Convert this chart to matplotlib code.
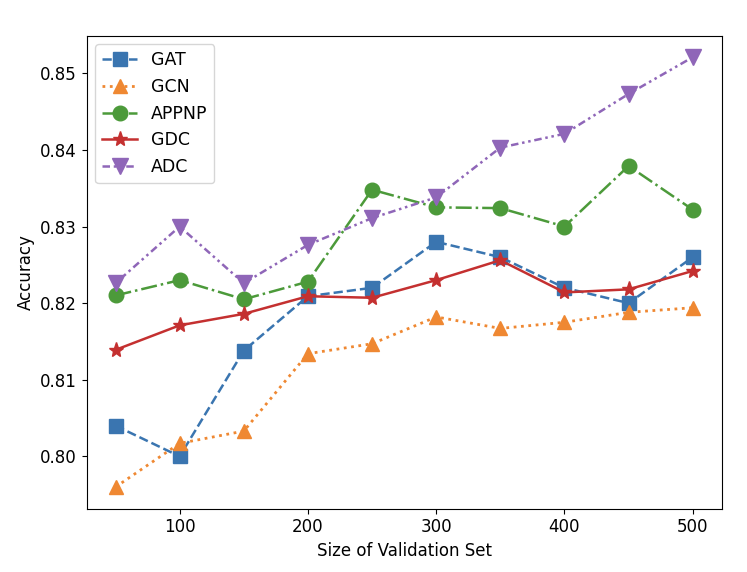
import matplotlib
matplotlib.use("Agg")
import matplotlib.pyplot as plt

sizes = [50, 100, 150, 200, 250, 300, 350, 400, 450, 500]
gat = [0.804, 0.800, 0.8138, 0.8209, 0.8220, 0.8280, 0.8260, 0.8220, 0.8200, 0.8260]
gcn = [0.7960, 0.8017, 0.8033, 0.8134, 0.8147, 0.8182, 0.8167, 0.8175, 0.8188, 0.8194]
appnp = [0.8210, 0.8230, 0.8205, 0.8228, 0.8348, 0.8325, 0.8324, 0.8300, 0.8379, 0.8322]
gdc = [0.8139, 0.8171, 0.8186, 0.8209, 0.8207, 0.8230, 0.8256, 0.8214, 0.8218, 0.8242]
adc = [0.8226, 0.8300, 0.8226, 0.8276, 0.8311, 0.8338, 0.8403, 0.8421, 0.8473, 0.8521]

fig, ax = plt.subplots(figsize=(7.47, 5.72), dpi=100)
ax.plot(sizes, gat, "s--", color="#3a75b0", markersize=10.5, linewidth=1.8, label="GAT")
ax.plot(sizes, gcn, "^:", color="#ef8832", markersize=10.5, linewidth=2.0, label="GCN")
ax.plot(sizes, appnp, "o-.", color="#4c9a3a", markersize=10.5, linewidth=1.8, label="APPNP")
ax.plot(sizes, gdc, "*-", color="#c43030", markersize=11, linewidth=1.8, label="GDC")
ax.plot(sizes, adc, "v-.", color="#8f66b8", markersize=11, linewidth=1.8,
        dashes=(3, 1.5, 1, 1.5, 1, 1.5), label="ADC")

ax.set_xlabel("Size of Validation Set", fontsize=12)
ax.set_ylabel("Accuracy", fontsize=12)
ax.set_yticks([0.80, 0.81, 0.82, 0.83, 0.84, 0.85])
ax.set_yticklabels(["0.80", "0.81", "0.82", "0.83", "0.84", "0.85"])
ax.set_xticks([100, 200, 300, 400, 500])
ax.tick_params(labelsize=12)
ax.legend(loc="upper left", fontsize=12.5)

plt.subplots_adjust(left=0.116, right=0.966, top=0.9376, bottom=0.111)
plt.savefig("out.png", dpi=100)
